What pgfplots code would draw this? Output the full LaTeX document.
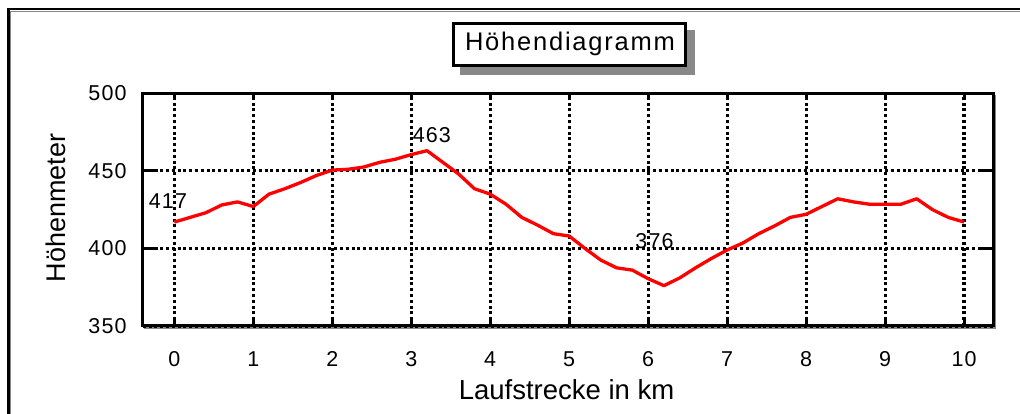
\documentclass[border=0pt]{standalone}
\usepackage{fontspec}
\setmainfont{Liberation Sans}
\newfontfamily\tickfont[LetterSpace=5]{Liberation Sans}
\newfontfamily\titlefont[LetterSpace=7]{Liberation Sans}
\usepackage{pgfplots}
\pgfplotsset{compat=1.18}
\definecolor{shadow}{RGB}{136,136,136}
\begin{document}
\begin{tikzpicture}
\useasboundingbox (0,0) rectangle (1020pt,414pt);
% outer frame (top and left visible)
\draw[shadow, line width=1pt] (10.8pt,0) -- (10.8pt,402.8pt) -- (1020pt,402.8pt);
\draw[black, line width=2.6pt] (8.5pt,0) -- (8.5pt,405pt) -- (1020pt,405pt);
% title box with shadow
\fill[shadow] (459.7pt,339.3pt) rectangle (694.7pt,384.3pt);
\draw[line width=3pt, fill=white] (453.2pt,348.8pt) rectangle (685.2pt,390.8pt);
\node[anchor=base, inner sep=0pt, font=\titlefont\fontsize{25.5}{25.5}\selectfont] at (570pt,363.3pt) {Höhendiagramm};
% axis shadow
\draw[shadow, line width=1.5pt] (144pt,86pt) -- (995.3pt,86pt) -- (995.3pt,319pt);
\begin{axis}[
  at={(142.7pt,88pt)}, anchor=south west,
  scale only axis, width=850.6pt, height=232.7pt,
  xmin=-0.4, xmax=10.37, ymin=350, ymax=500,
  xtick={0,1,2,3,4,5,6,7,8,9,10},
  ytick={350,400,450,500},
  grid=major,
  major grid style={black, line width=3.2pt, dash pattern=on 3pt off 2.8pt},
  axis line style={black, line width=3pt},
  tick align=inside,
  major tick length=15pt,
  tick style={black, line width=3pt},
  xtick style={/pgfplots/major tick length=6pt},
  /pgf/number format/assume math mode=true,
  ticklabel style={font=\tickfont\fontsize{21.5}{21.5}\selectfont},
  yticklabel style={anchor=east, inner sep=0pt, xshift=-16pt},
  xticklabel style={anchor=center, inner sep=0pt, yshift=-33pt},
]
\addplot[red, line width=3.3pt, mark=none, line join=round] coordinates {
(0,417) (0.2,420) (0.4,423) (0.6,428) (0.8,430) (1.0,427)
(1.2,435) (1.4,438.5) (1.6,442.5) (1.8,447) (2.0,450.5)
(2.2,451) (2.4,452.5) (2.6,455.5) (2.8,457.5) (3.0,460.5)
(3.2,463) (3.4,455.5) (3.6,448) (3.8,438.5) (4.0,435)
(4.2,428.5) (4.4,420) (4.6,415) (4.8,409.5) (5.0,408)
(5.2,400) (5.4,392.5) (5.6,387.5) (5.8,386) (6.0,380.5)
(6.2,376) (6.4,381) (6.6,387.5) (6.8,393.5) (7.0,399)
(7.2,403.5) (7.4,409.5) (7.6,414.5) (7.8,420) (8.0,422)
(8.2,427) (8.4,432) (8.6,430) (8.8,428.5) (9.0,428.5)
(9.2,428.5) (9.4,432) (9.6,425) (9.8,420) (10.0,417)
};
\node[font=\tickfont\fontsize{21.5}{21.5}\selectfont, inner sep=0pt] at (axis cs:-0.08,430.6) {417};
\node[font=\tickfont\fontsize{21.5}{21.5}\selectfont, inner sep=0pt] at (axis cs:3.26,473.1) {463};
\node[font=\tickfont\fontsize{21.5}{21.5}\selectfont, inner sep=0pt] at (axis cs:6.08,404.6) {376};
\end{axis}
\node[rotate=90, anchor=base, inner sep=0pt, font=\fontsize{27}{27}\selectfont] at (65pt,206pt) {Höhenmeter};
\node[anchor=base, inner sep=0pt, font=\fontsize{27.5}{27.5}\selectfont] at (566.5pt,14pt) {Laufstrecke in km};
\end{tikzpicture}
\end{document}
